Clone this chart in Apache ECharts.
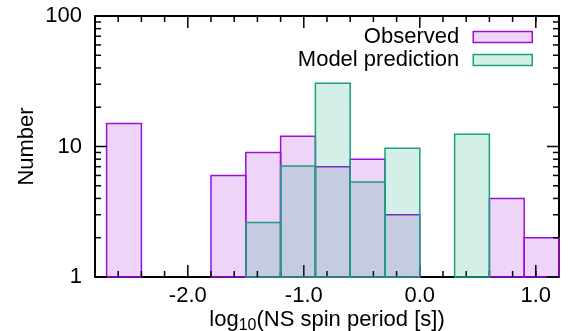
<!DOCTYPE html>
<html>
<head>
<meta charset="utf-8">
<script src="https://cdn.jsdelivr.net/npm/echarts@6/dist/echarts.min.js"></script>
<style>
  html, body { margin: 0; padding: 0; background: #fff; }
  #plot { width: 568px; height: 331px; }
</style>
</head>
<body>
<div id="plot"></div>
<script>
// bins: left edge, right edge (log10 of spin period)
var binLeft  = [-2.7, -1.8, -1.5, -1.2, -0.9, -0.6, -0.3, 0.3, 0.6, 0.9];
var binRight = [-2.4, -1.5, -1.2, -0.9, -0.6, -0.3, 0.0, 0.6, 0.9, 1.2];
var observed = [15, 6, 9, 12, 7, 8, 3, null, 4, 2];
var model    = [null, null, 2.62, 7.1, 30.5, 5.35, 9.7, 12.4, null, null];

var xMajor = [-2, -1, 0, 1];
var xMinor = [-2.6, -2.4, -2.2, -1.8, -1.6, -1.4, -1.2, -0.8, -0.6, -0.4, -0.2,
              0.2, 0.4, 0.6, 0.8, 1.0];
var yMajor = [1, 10, 100];
var yMinor = [2, 3, 4, 5, 6, 7, 8, 9, 20, 30, 40, 50, 60, 70, 80, 90];

var X_MIN = -2.8, X_MAX = 1.2, Y_MIN = 1, Y_MAX = 100;

var FONT = 'Liberation Sans';
var FS = 22;

var obsColor = '#9a10d8';
var obsFill = 'rgba(148,0,211,0.17)';
var modColor = '#1aa07e';
var modFill = 'rgba(0,158,115,0.17)';

function toData(vals) {
  var out = [];
  vals.forEach(function (v, i) {
    if (v != null) out.push([binLeft[i], binRight[i], v]);
  });
  return out;
}

// inside tick marks on all four sides of the frame, as thin filled rects
function frameTicks(api) {
  var out = [];
  var W = 1.5;
  function xTicks(vals, len) {
    vals.forEach(function (v) {
      var b = api.coord([v, Y_MIN]);
      var t = api.coord([v, Y_MAX]);
      out.push({ type: 'rect', shape: { x: b[0] - W / 2, y: b[1] - len, width: W, height: len }, style: { fill: '#000' } });
      out.push({ type: 'rect', shape: { x: t[0] - W / 2, y: t[1], width: W, height: len }, style: { fill: '#000' } });
    });
  }
  function yTicks(vals, len) {
    vals.forEach(function (v) {
      var l = api.coord([X_MIN, v]);
      var r = api.coord([X_MAX, v]);
      out.push({ type: 'rect', shape: { x: l[0], y: l[1] - W / 2, width: len, height: W }, style: { fill: '#000' } });
      out.push({ type: 'rect', shape: { x: r[0] - len, y: r[1] - W / 2, width: len, height: W }, style: { fill: '#000' } });
    });
  }
  xTicks(xMajor, 12);
  xTicks(xMinor, 6);
  yTicks(yMajor, 12);
  yTicks(yMinor, 6);
  return out;
}

function barRender(fill, stroke, withTicks) {
  return function (params, api) {
    var p0 = api.coord([api.value(0), api.value(2)]);
    var p1 = api.coord([api.value(1), Y_MIN]);
    var bar = {
      type: 'rect',
      shape: { x: p0[0], y: p0[1], width: p1[0] - p0[0], height: p1[1] - p0[1] },
      style: { fill: fill, stroke: stroke, lineWidth: 1.5 }
    };
    if (withTicks && params.dataIndex === 0) {
      return { type: 'group', children: [bar].concat(frameTicks(api)) };
    }
    return bar;
  };
}

var axisLineStyle = { show: true, onZero: false, lineStyle: { color: '#000', width: 2 } };

var myChart = echarts.init(document.getElementById('plot'));

var option = {
  animation: false,
  backgroundColor: '#fff',
  grid: { left: 95, right: 9, top: 16, bottom: 54, containLabel: false, outerBoundsMode: 'none' },
  xAxis: [{
    type: 'value', min: X_MIN, max: X_MAX, position: 'bottom',
    axisLine: axisLineStyle,
    axisTick: { show: false },
    axisLabel: {
      customValues: xMajor, margin: 8,
      fontFamily: FONT, fontSize: FS, color: '#000',
      formatter: function (v) { return v.toFixed(1); }
    },
    splitLine: { show: false },
    name: '{a|log}{b|10}{a|(NS spin period [s])}',
    nameLocation: 'middle',
    nameGap: 28,
    nameMoveOverlap: false,
    nameTextStyle: {
      rich: {
        a: { fontFamily: FONT, fontSize: FS, color: '#000', lineHeight: 30 },
        b: { fontFamily: FONT, fontSize: 16, color: '#000', lineHeight: 30, padding: [12, 0, 0, 0] }
      }
    }
  }, {
    type: 'value', min: X_MIN, max: X_MAX, position: 'top',
    axisLine: axisLineStyle, axisTick: { show: false }, axisLabel: { show: false },
    splitLine: { show: false }
  }],
  yAxis: [{
    type: 'log', logBase: 10, min: Y_MIN, max: Y_MAX, position: 'left',
    axisLine: axisLineStyle,
    axisTick: { show: false },
    axisLabel: { customValues: yMajor, margin: 13, fontFamily: FONT, fontSize: FS, color: '#000' },
    splitLine: { show: false },
    name: 'Number',
    nameLocation: 'middle',
    nameRotate: 90,
    nameGap: 57,
    nameMoveOverlap: false,
    nameTextStyle: { fontFamily: FONT, fontSize: FS, color: '#000' }
  }, {
    type: 'log', logBase: 10, min: Y_MIN, max: Y_MAX, position: 'right',
    axisLine: axisLineStyle, axisTick: { show: false }, axisLabel: { show: false },
    splitLine: { show: false }
  }],
  legend: {
    orient: 'vertical',
    right: 35, top: 26, padding: 0,
    align: 'right',
    itemWidth: 59, itemHeight: 11, itemGap: 1,
    textStyle: { fontFamily: FONT, fontSize: FS, color: '#000', padding: [0, 9, 0, 0] },
    data: [
      { name: 'Observed', icon: 'rect', itemStyle: { color: obsFill, borderColor: obsColor, borderWidth: 1.5 } },
      { name: 'Model prediction', icon: 'rect', itemStyle: { color: modFill, borderColor: modColor, borderWidth: 1.5 } }
    ]
  },
  series: [
    {
      name: 'Observed', type: 'custom',
      renderItem: barRender(obsFill, obsColor, false),
      itemStyle: { color: obsFill, borderColor: obsColor },
      encode: { x: [0, 1], y: 2 },
      data: toData(observed)
    },
    {
      name: 'Model prediction', type: 'custom',
      renderItem: barRender(modFill, modColor, true),
      itemStyle: { color: modFill, borderColor: modColor },
      encode: { x: [0, 1], y: 2 },
      data: toData(model)
    }
  ]
};

myChart.setOption(option);
</script>
</body>
</html>
